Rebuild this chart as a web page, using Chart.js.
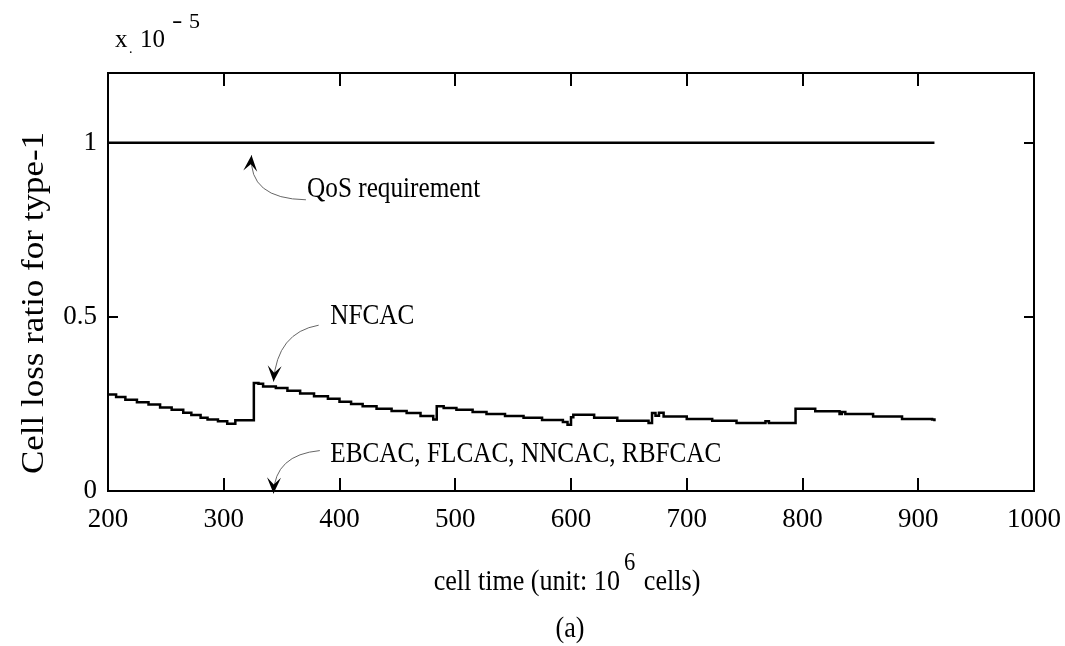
<!DOCTYPE html>
<html lang="en">
<head>
<meta charset="UTF-8" />
<title>Cell loss ratio for type-1</title>
<script src="https://cdn.jsdelivr.net/npm/chart.js"></script>
<style>
  html, body { margin: 0; padding: 0; background: #fff; }
  #wrap { width: 1065px; height: 646px; position: relative; }
</style>
</head>
<body>
<div id="wrap"><canvas id="clr"></canvas></div>
<script>
  // values (cell loss ratio in units of 1e-5)
  const nfcacTime = [200, 207, 215, 225, 235, 245, 255, 265, 272, 280, 286, 295, 303, 310, 326,
    330, 334, 345, 355, 366, 378, 390, 400, 410, 420, 432, 445, 458, 470, 481, 484, 490, 501,
    515, 527, 543, 559, 575, 593, 597, 600, 602, 620, 640, 667, 670, 673, 676, 680, 700, 722,
    743, 768, 771, 794, 811, 832, 834, 837, 861, 886, 912, 914];
  const nfcacRatio = [0.277, 0.27, 0.262, 0.255, 0.248, 0.24, 0.233, 0.225, 0.218, 0.21, 0.205, 0.2, 0.193, 0.203, 0.31,
    0.308, 0.3, 0.296, 0.288, 0.28, 0.272, 0.265, 0.256, 0.25, 0.243, 0.236, 0.23, 0.224, 0.215, 0.205, 0.243, 0.238, 0.233,
    0.227, 0.221, 0.215, 0.21, 0.204, 0.198, 0.19, 0.212, 0.219, 0.21, 0.202, 0.195, 0.224, 0.216, 0.225, 0.214, 0.207, 0.202,
    0.195, 0.2, 0.195, 0.236, 0.229, 0.221, 0.227, 0.221, 0.214, 0.207, 0.205, 0.2];
  const qosTime = [200, 914];
  const qosRatio = [1, 1];
  const otherTime = [200, 914];
  const otherRatio = [0, 0];

  const labelTexts = ["QoS requirement", "NFCAC", "EBCAC, FLCAC, NNCAC, RBFCAC"];

  const FONT = '"Liberation Serif", "Times New Roman", serif';

  const toPoints = (xs, ys) => xs.map((v, i) => ({ x: v, y: ys[i] }));

  // text labels and curved arrows, in data coordinates
  const notes = [
    { text: labelTexts[0], at: [372, 0.867], from: [371, 0.836], ctrl: [321, 0.839], tip: [324, 0.964] },
    { text: labelTexts[1], at: [392, 0.5], from: [382, 0.476], ctrl: [346, 0.455], tip: [343, 0.314] },
    { text: labelTexts[2], at: [392, 0.104], from: [383, 0.116], ctrl: [344, 0.104], tip: [343, -0.007] }
  ];

  // the figure's lettering is narrow and tall, so squeeze it sideways
  function squeezed(ctx, text, x, y, size, sx) {
    ctx.save();
    ctx.font = size + 'px ' + FONT;
    ctx.translate(x, y);
    ctx.scale(sx, 1);
    ctx.fillText(text, 0, 0);
    ctx.restore();
  }
  function textWidth(ctx, text, size, sx) {
    ctx.save();
    ctx.font = size + 'px ' + FONT;
    const w = ctx.measureText(text).width * sx;
    ctx.restore();
    return w;
  }

  function arrowHead(ctx, x0, y0, x1, y1) {
    const ang = Math.atan2(y1 - y0, x1 - x0);
    const len = 16, half = 7, notch = 9;
    ctx.save();
    ctx.translate(x1, y1);
    ctx.rotate(ang);
    ctx.beginPath();
    ctx.moveTo(0, 0);
    ctx.lineTo(-len, -half);
    ctx.lineTo(-notch, 0);
    ctx.lineTo(-len, half);
    ctx.closePath();
    ctx.fillStyle = '#000';
    ctx.fill();
    ctx.restore();
  }

  const framePlugin = {
    id: 'frame',
    afterDatasetsDraw(chart) {
      const { ctx, chartArea: a, scales: { x, y } } = chart;
      ctx.save();
      ctx.strokeStyle = '#000';
      ctx.lineWidth = 2;
      ctx.strokeRect(a.left, a.top, a.right - a.left, a.bottom - a.top);

      ctx.beginPath();
      x.ticks.forEach(t => {
        const px = Math.round(x.getPixelForValue(t.value));
        ctx.moveTo(px, a.bottom); ctx.lineTo(px, a.bottom - 13);
        ctx.moveTo(px, a.top); ctx.lineTo(px, a.top + 13);
      });
      y.ticks.forEach(t => {
        const py = Math.round(y.getPixelForValue(t.value));
        ctx.moveTo(a.left, py); ctx.lineTo(a.left + 10, py);
        ctx.moveTo(a.right, py); ctx.lineTo(a.right - 10, py);
      });
      ctx.stroke();

      // notes
      ctx.fillStyle = '#000';
      ctx.textAlign = 'left';
      ctx.textBaseline = 'middle';
      notes.forEach(n => {
        squeezed(ctx, n.text, x.getPixelForValue(n.at[0]), y.getPixelForValue(n.at[1]), 29, 0.87);
        const fx = x.getPixelForValue(n.from[0]), fy = y.getPixelForValue(n.from[1]);
        const cx = x.getPixelForValue(n.ctrl[0]), cy = y.getPixelForValue(n.ctrl[1]);
        const tx = x.getPixelForValue(n.tip[0]), ty = y.getPixelForValue(n.tip[1]);
        ctx.beginPath();
        ctx.strokeStyle = '#666';
        ctx.lineWidth = 1;
        ctx.moveTo(fx, fy);
        ctx.quadraticCurveTo(cx, cy, tx, ty);
        ctx.stroke();
        arrowHead(ctx, cx, cy, tx, ty);
      });

      // titles
      ctx.textBaseline = 'alphabetic';
      squeezed(ctx, 'x', 115, 47, 25, 1);
      squeezed(ctx, '10', 140, 47, 25, 1);
      squeezed(ctx, '-', 172, 28, 24, 1.3);
      squeezed(ctx, '5', 189, 28, 22, 1);
      squeezed(ctx, '.', 129, 53, 14, 1);

      const t1 = 'cell time (unit: 10', t2 = '6', t3 = ' cells)';
      const w1 = textWidth(ctx, t1, 30, 0.87), w3 = textWidth(ctx, t3, 30, 0.87);
      const w2 = textWidth(ctx, t2, 26, 0.87) + 6;
      const sx = 567 - (w1 + w2 + w3) / 2;
      squeezed(ctx, t1, sx, 590, 30, 0.87);
      squeezed(ctx, t3, sx + w1 + w2, 590, 30, 0.87);
      squeezed(ctx, t2, sx + w1 + 4, 570, 26, 0.87);

      ctx.textAlign = 'center';
      squeezed(ctx, '(a)', 570, 637, 30, 0.87);

      ctx.translate(35, 303);
      ctx.rotate(-Math.PI / 2);
      ctx.scale(1, 0.88);
      ctx.textBaseline = 'middle';
      ctx.font = '35px ' + FONT;
      ctx.fillText('Cell loss ratio for type-1', 0, 0);
      ctx.restore();
    }
  };

  new Chart(document.getElementById('clr'), {
    type: 'line',
    data: {
      datasets: [
        { label: 'QoS requirement', data: toPoints(qosTime, qosRatio), borderColor: '#000', borderWidth: 2.5, pointRadius: 0 },
        { label: 'NFCAC', data: toPoints(nfcacTime, nfcacRatio), borderColor: '#000', borderWidth: 2.5, pointRadius: 0, stepped: 'before' },
        { label: 'EBCAC, FLCAC, NNCAC, RBFCAC', data: toPoints(otherTime, otherRatio), borderColor: '#000', borderWidth: 2, pointRadius: 0 }
      ]
    },
    options: {
      responsive: true,
      maintainAspectRatio: false,
      animation: false,
      layout: { padding: { top: 73, right: 31, left: 0, bottom: 0 } },
      plugins: { legend: { display: false }, tooltip: { enabled: false } },
      scales: {
        x: {
          type: 'linear', min: 200, max: 1000,
          ticks: { stepSize: 100, color: '#000', font: { family: FONT, size: 27 }, padding: 13, maxRotation: 0,
                   callback: v => String(v) },
          grid: { display: false, drawTicks: false },
          border: { display: false },
          afterFit(s) { s.height = 155; s.paddingLeft = 0; s.paddingRight = 0; }
        },
        y: {
          min: 0, max: 1.2,
          ticks: { stepSize: 0.5, includeBounds: false, color: '#000', font: { family: FONT, size: 27 }, padding: 11,
                   callback: v => String(v) },
          grid: { display: false, drawTicks: false },
          border: { display: false },
          afterFit(s) { s.width = 108; s.paddingTop = 0; s.paddingBottom = 0; }
        }
      }
    },
    plugins: [framePlugin]
  });
</script>
</body>
</html>
